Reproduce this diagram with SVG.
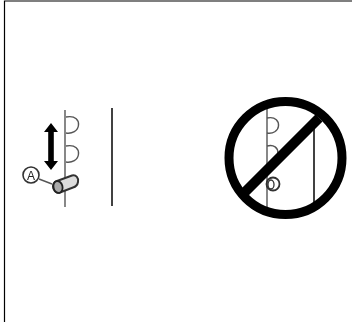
<svg xmlns="http://www.w3.org/2000/svg" width="352" height="322" viewBox="0 0 352 322">
<style>
.thin{fill:none;stroke:#555;stroke-width:1.4}
.dark{fill:none;stroke:#222;stroke-width:1.7}
</style>
<defs><filter id="soft" x="-5%" y="-5%" width="110%" height="110%"><feGaussianBlur stdDeviation="0.45"/></filter></defs>
<rect width="352" height="322" fill="#fff"/>
<path d="M4.500 322V1H352" fill="none" stroke="#000" stroke-width="1.200"/>
<g id="allowed" filter="url(#soft)">
<path class="thin" d="M65 110V207"/>
<path class="thin" d="M66 117C76 115 79 121 78.500 125C78 131 72 134 66 133"/>
<path class="thin" d="M66 146C76 144 79 150 78.500 154C78 160 72 163 66 162"/>
<path class="dark" d="M112 108V206"/>
<path d="M51 123L58 132H53.800V161H58L51 170L44 161H48.200V132H44Z" fill="#000"/>
<circle cx="31" cy="175" r="8" fill="#fff" stroke="#333" stroke-width="1.600"/>
<text x="31" y="179.500" font-family="Liberation Sans, sans-serif" font-size="12" text-anchor="middle" fill="#222">A</text>
<path class="thin" d="M39 179L52 184"/>
<path d="M57 181L72 175.500C76 174.500 79 178 78 182C77.500 185 75 187 73 187.500L60 192.500C56 193.500 53 190 53 186.500C53 184 54.500 182 57 181Z" fill="#ddd" stroke="#333" stroke-width="2"/>
<ellipse cx="58" cy="187" rx="4.500" ry="6" fill="#aaa" stroke="#222" stroke-width="1.800" transform="rotate(-15 58 187)"/>
</g>
<g id="prohibited" filter="url(#soft)">
<path class="thin" d="M267 108V208"/>
<path class="thin" d="M267 118C276 116 279 122 278.500 126C278 131 273 134 267 133"/>
<path class="thin" d="M267 146C274 144 278 148 278 153"/>
<path class="dark" d="M314 125V205"/>
<circle cx="273" cy="184" r="6.500" fill="none" stroke="#333" stroke-width="1.800"/>
<ellipse cx="271" cy="184.500" rx="3" ry="4.500" fill="none" stroke="#333" stroke-width="1.300"/>
<circle cx="285.500" cy="158" r="56.500" fill="none" stroke="#000" stroke-width="9"/>
<path d="M245 192L319 118" stroke="#000" stroke-width="10" fill="none"/>
</g>
</svg>
